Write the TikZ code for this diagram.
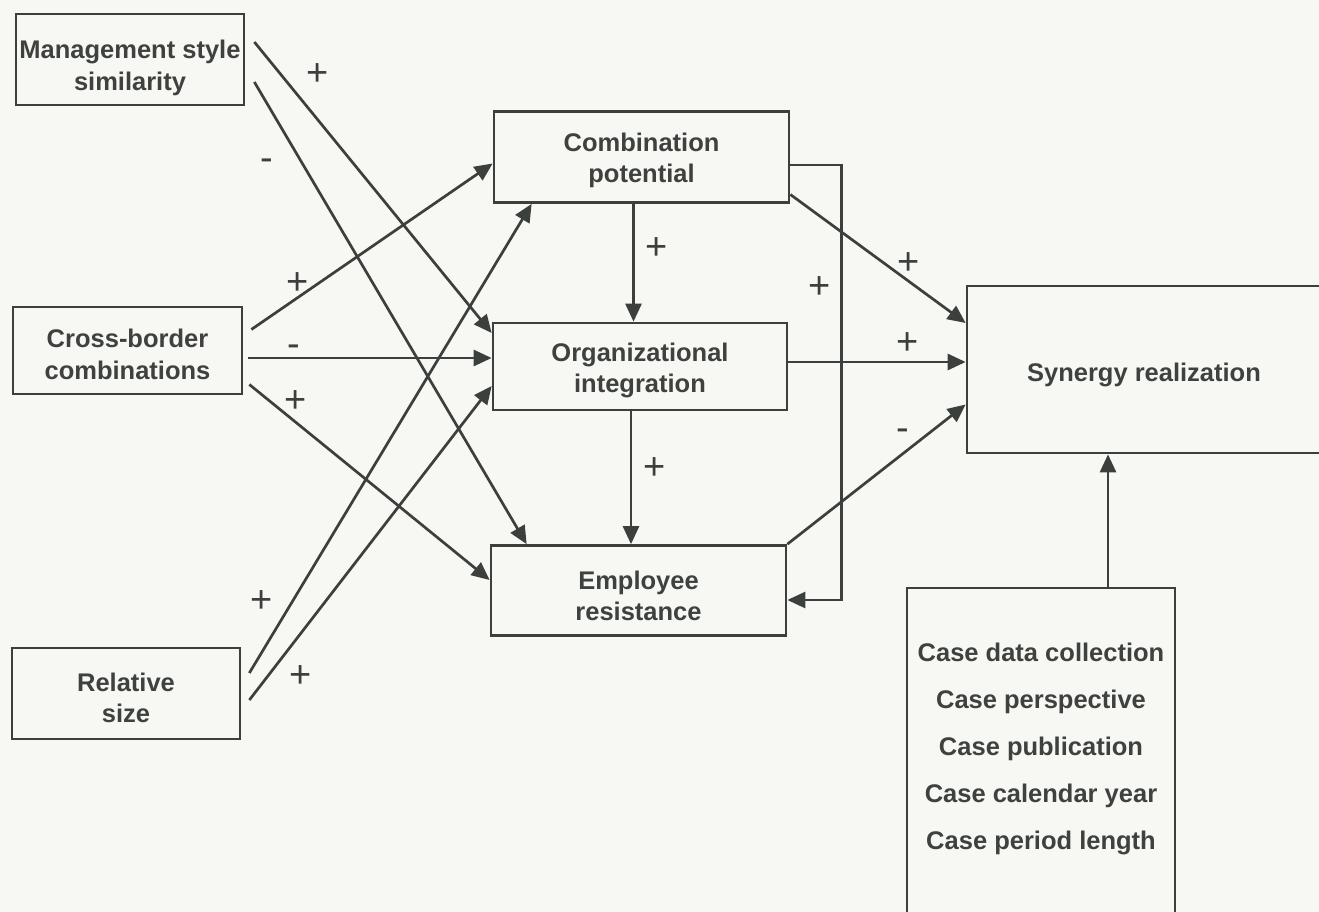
\documentclass[tikz,border=0pt]{standalone}
\usepackage{fontspec}
\setmainfont{Liberation Sans}
\usetikzlibrary{arrows.meta,calc}
\definecolor{ink}{HTML}{3B403C}
\definecolor{txt}{HTML}{3E423F}
\definecolor{paper}{HTML}{F7F7F4}
\begin{document}
\begin{tikzpicture}[x=1pt,y=-1pt,
 box/.style={draw=ink,line width=2.7pt,inner sep=0pt},
 lbl/.style={text=txt,font=\fontsize{25.5}{31.5}\selectfont\bfseries,align=center,inner sep=0pt},
 arr/.style={draw=ink,line width=2.7pt,-{Triangle[length=18pt,width=16pt]}},
 sgn/.style={text=ink,font=\fontsize{38}{38}\selectfont,inner sep=0pt}]
\path[fill=paper] (0,0) rectangle (1319,912);
\useasboundingbox (0,0) rectangle (1319,912);
% boxes
\node[box,minimum width=228pt,minimum height=91pt] (ms) at (130,59.5) {};
\node[box,minimum width=229pt,minimum height=87pt] (cb) at (127.5,350.5) {};
\node[box,minimum width=228pt,minimum height=91pt] (rs) at (126,693.5) {};
\node[box,minimum width=295pt,minimum height=91pt] (cp) at (641.5,157) {};
\node[box,minimum width=294pt,minimum height=87pt] (oi) at (640,366.5) {};
\node[box,minimum width=295pt,minimum height=90pt] (er) at (638.5,590.5) {};
\node[box,minimum width=358pt,minimum height=167pt] (sr) at (1146,369.5) {};
\node[box,minimum width=268pt,minimum height=334pt] (cc) at (1041,755) {};
% texts
\node[lbl] (mst) at (130,68) {Management style\\similarity};
\node[lbl] (cbt) at (127.5,354.5) {Cross-border\\combinations};
\node[lbl] (rst) at (126,698) {Relative\\size};
\node[lbl] (cpt) at (641.5,160.5) {Combination\\potential};
\node[lbl] (oit) at (640,370.5) {Organizational\\integration};
\node[lbl] (ert) at (638.5,596) {Employee\\resistance};
\node[lbl] (srt) at (1144,375) {Synergy realization};
\node[lbl,font=\fontsize{25.5}{47}\selectfont\bfseries] (cct) at (1041,749)
 {Case data collection\\Case perspective\\Case publication\\Case calendar year\\Case period length};
% arrows from left
\draw[arr] ($(ms.east)+(9,-17.5)$) -- ($(oi.west)+(0,-33.5)$);
\draw[arr] ($(ms.east)+(9,22.5)$) -- ($(er.north west)+(37,0)$);
\draw[arr] ($(cb.east)+(8,-21)$) -- ($(cp.west)+(0,6.5)$);
\draw[arr] ($(cb.east)+(5,7.5)$) -- ($(oi.west)+(0,-8.5)$);
\draw[arr] ($(cb.east)+(6,34)$) -- ($(er.west)+(0,-10.5)$);
\draw[arr] ($(rs.east)+(8,-20.5)$) -- ($(cp.south west)+(39,0)$);
\draw[arr] ($(rs.east)+(8,6.5)$) -- ($(oi.west)+(0,19.5)$);
% middle
\draw[arr] ($(cp.south)+(-8,0)$) coordinate (v1) -- (v1 |- oi.north);
\draw[arr] ($(oi.south)+(-9,0)$) coordinate (v2) -- (v2 |- er.north);
\draw[arr] ($(cp.east)+(0,8)$) -- ++(51,0) |- ($(er.east)+(0,9.5)$);
% to synergy
\draw[arr] ($(cp.east)+(0,37.5)$) -- ($(sr.west)+(0,-46.5)$);
\draw[arr] ($(oi.east)+(0,-4.5)$) -- ($(sr.west)+(0,-7.5)$);
\draw[arr] (er.north east) -- ($(sr.west)+(0,35)$);
\draw[arr] ($(cc.north)+(67,0)$) coordinate (v3) -- (v3 |- sr.south);
% signs
\node[sgn] (s1) at (318,75) {+};
\node[sgn] (s2) at (267,165) {-};
\node[sgn] (s3) at (298,284) {+};
\node[sgn] (s4) at (294,351) {-};
\node[sgn] (s5) at (296,402) {+};
\node[sgn] (s6) at (262,602) {+};
\node[sgn] (s7) at (301,677) {+};
\node[sgn] (s8) at (657,249) {+};
\node[sgn] (s9) at (655,469) {+};
\node[sgn] (s10) at (820,288) {+};
\node[sgn] (s11) at (909,264) {+};
\node[sgn] (s12) at (908,344) {+};
\node[sgn] (s13) at (903,435) {-};
\end{tikzpicture}
\end{document}
